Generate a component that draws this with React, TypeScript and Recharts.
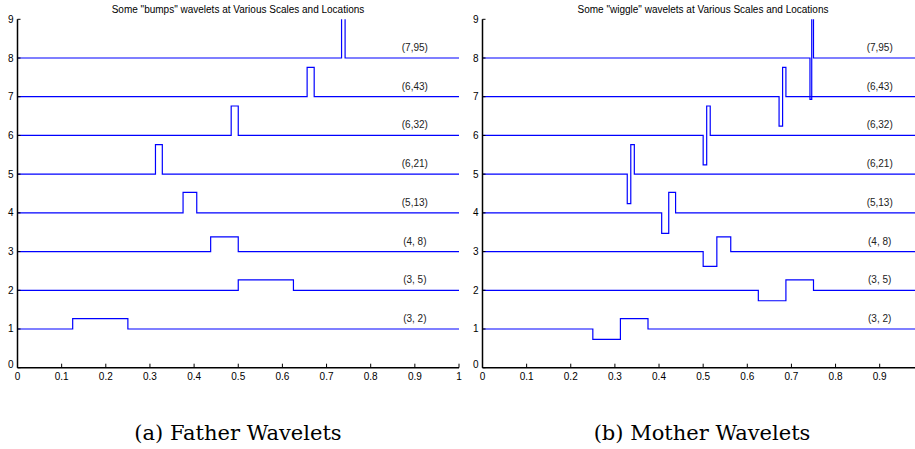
import { Line, LineChart, ReferenceDot, XAxis, YAxis } from "recharts"

// one entry per wavelet, bottom (level 1) to top (level 8)
const labels = ["(3, 2)", "(3, 5)", "(4, 8)", "(5,13)", "(6,21)", "(6,32)", "(6,43)", "(7,95)"]
const levels = [1, 2, 3, 4, 5, 6, 7, 8]
const heights = [0.27, 0.27, 0.38, 0.53, 0.76, 0.76, 0.76, 1.07]

// father ("bumps"): box from start to end
const fatherStart = [0.125, 0.5, 0.4375, 0.375, 0.3125, 0.484, 0.656, 0.734]
const fatherEnd = [0.25, 0.625, 0.5, 0.406, 0.328, 0.5, 0.672, 0.742]

// mother ("wiggle"): down from start to mid, up from mid to end
const motherStart = [0.25, 0.625, 0.5, 0.406, 0.328, 0.5, 0.672, 0.742]
const motherMid = [0.3125, 0.6875, 0.531, 0.422, 0.336, 0.508, 0.68, 0.746]
const motherEnd = [0.375, 0.75, 0.5625, 0.4375, 0.344, 0.516, 0.6875, 0.75]

const xTicks = [0, 0.1, 0.2, 0.3, 0.4, 0.5, 0.6, 0.7, 0.8, 0.9, 1]
const yTicks = [0, 1, 2, 3, 4, 5, 6, 7, 8, 9]

const fatherSeries = levels.map((lv, i) => [
  { x: 0, y: lv },
  { x: fatherStart[i], y: lv },
  { x: fatherStart[i], y: lv + heights[i] },
  { x: fatherEnd[i], y: lv + heights[i] },
  { x: fatherEnd[i], y: lv },
  { x: 1, y: lv },
])

const motherSeries = levels.map((lv, i) => [
  { x: 0, y: lv },
  { x: motherStart[i], y: lv },
  { x: motherStart[i], y: lv - heights[i] },
  { x: motherMid[i], y: lv - heights[i] },
  { x: motherMid[i], y: lv + heights[i] },
  { x: motherEnd[i], y: lv + heights[i] },
  { x: motherEnd[i], y: lv },
  { x: 1, y: lv },
])

const font = "'Liberation Sans', Arial, sans-serif"

const BottomTick = ({ x, y, payload }: any) => (
  <g>
    <line x1={x} x2={x} y1={y} y2={y - 4} stroke="#000" />
    <text x={x} y={y + 12} textAnchor="middle" fontSize={10} fontFamily={font} fill="#000">
      {String(payload.value)}
    </text>
  </g>
)

const TopTick = ({ x, y }: any) => <line x1={x} x2={x} y1={y} y2={y + 4} stroke="#000" />

const LeftTick = ({ x, y, payload }: any) => (
  <g>
    <line x1={x} x2={x + 3} y1={y} y2={y} stroke="#000" />
    <text x={x - 4} y={y + (payload.value === 0 ? 0 : 3.5)} textAnchor="end" fontSize={10} fontFamily={font} fill="#000">
      {String(payload.value)}
    </text>
  </g>
)

function WaveChart({ series, xMax, width, right, hasRight }: { series: { x: number; y: number }[][]; xMax: number; width: number; right: number; hasRight: boolean }) {
  const ticks = xTicks.filter((t) => t <= xMax)
  return (
    <LineChart width={width} height={400} margin={{ top: 19.3, right, left: 0, bottom: 12.3 }}>
      <XAxis
        type="number"
        dataKey="x"
        domain={[0, xMax]}
        allowDataOverflow
        ticks={ticks}
        height={20}
        tickSize={0}
        tickMargin={0}
        tickLine={false}
        axisLine={{ stroke: "#000", strokeWidth: 1.5 }}
        tick={<BottomTick />}
        interval={0}
      />
      <XAxis
        xAxisId="top"
        orientation="top"
        type="number"
        dataKey="x"
        domain={[0, xMax]}
        allowDataOverflow
        ticks={ticks}
        height={0}
        tickSize={0}
        tickMargin={0}
        tickLine={false}
        axisLine={{ stroke: "#000", strokeWidth: 1 }}
        tick={<TopTick />}
        interval={0}
      />
      <YAxis
        type="number"
        domain={[0, 9]}
        allowDataOverflow
        ticks={yTicks}
        width={17.5}
        tickSize={0}
        tickMargin={0}
        tickLine={false}
        axisLine={{ stroke: "#000", strokeWidth: 1.5 }}
        tick={<LeftTick />}
        interval={0}
      />
      {hasRight && (
        <YAxis
          yAxisId="r"
          orientation="right"
          type="number"
          domain={[0, 9]}
          width={0}
          tick={false}
          tickLine={false}
          axisLine={{ stroke: "#000", strokeWidth: 1 }}
        />
      )}
      {series.map((d, i) => (
        <Line
          key={labels[i]}
          data={d}
          dataKey="y"
          type="linear"
          stroke="#0000ff"
          strokeWidth={1.2}
          dot={false}
          activeDot={false}
          isAnimationActive={false}
        />
      ))}
      {levels.map((lv, i) => (
        <ReferenceDot
          key={"l" + i}
          x={0.9}
          y={lv + 0.27}
          r={0}
          shape={(p: any) => (
            <text x={p.cx} y={p.cy + 3.5} textAnchor="middle" fontSize={10} fontFamily={font} fill="#222">
              {labels[i]}
            </text>
          )}
        />
      ))}
    </LineChart>
  )
}

export default function App() {
  return (
    <div style={{ position: "absolute", left: 0, top: 0, width: 915, height: 449, background: "#fff", overflow: "hidden" }}>
      <div style={{ position: "absolute", left: 0, top: 0 }}>
        <WaveChart series={fatherSeries} xMax={1} width={468} right={9} hasRight={true} />
      </div>
      <div style={{ position: "absolute", left: 465, top: 0 }}>
        <WaveChart series={motherSeries} xMax={0.98} width={450} right={0} hasRight={false} />
      </div>
      <svg width={915} height={449} style={{ position: "absolute", left: 0, top: 0, pointerEvents: "none" }}>
        <text x={238} y={12.5} textAnchor="middle" fontSize={10} fontFamily={font} fill="#000">
          Some "bumps" wavelets at Various Scales and Locations
        </text>
        <text x={703} y={12.5} textAnchor="middle" fontSize={10} fontFamily={font} fill="#000">
          Some "wiggle" wavelets at Various Scales and Locations
        </text>
        <text x={238} y={440} textAnchor="middle" fontSize={21} fontFamily="'DejaVu Serif', serif" fill="#000">
          (a) Father Wavelets
        </text>
        <text x={702} y={440} textAnchor="middle" fontSize={21} fontFamily="'DejaVu Serif', serif" fill="#000">
          (b) Mother Wavelets
        </text>
      </svg>
    </div>
  )
}
